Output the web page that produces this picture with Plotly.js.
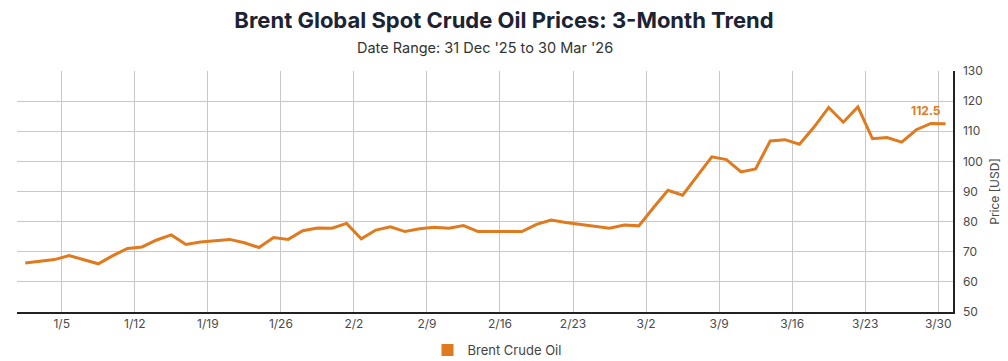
<!DOCTYPE html>
<html>
<head>
<meta charset="utf-8">
<script src="https://cdn.plot.ly/plotly-3.0.1.min.js"></script>
<style>
  html, body { margin: 0; padding: 0; background: #ffffff; }
  #chart { width: 1008px; height: 361px; }
</style>
</head>
<body>
<div id="chart"></div>
<script>
// Trading days (weekdays) 31 Dec 2025 – 30 Mar 2026
const dates = [
  '2025-12-31','2026-01-01','2026-01-02',
  '2026-01-05','2026-01-06','2026-01-07','2026-01-08','2026-01-09',
  '2026-01-12','2026-01-13','2026-01-14','2026-01-15','2026-01-16',
  '2026-01-19','2026-01-20','2026-01-21','2026-01-22','2026-01-23',
  '2026-01-26','2026-01-27','2026-01-28','2026-01-29','2026-01-30',
  '2026-02-02','2026-02-03','2026-02-04','2026-02-05','2026-02-06',
  '2026-02-09','2026-02-10','2026-02-11','2026-02-12','2026-02-13',
  '2026-02-16','2026-02-17','2026-02-18','2026-02-19','2026-02-20',
  '2026-02-23','2026-02-24','2026-02-25','2026-02-26','2026-02-27',
  '2026-03-02','2026-03-03','2026-03-04','2026-03-05','2026-03-06',
  '2026-03-09','2026-03-10','2026-03-11','2026-03-12','2026-03-13',
  '2026-03-16','2026-03-17','2026-03-18','2026-03-19','2026-03-20',
  '2026-03-23','2026-03-24','2026-03-25','2026-03-26','2026-03-27',
  '2026-03-30'
];

// Brent spot price, USD
const brentPrices = [
  66.3, 66.9, 67.4,
  68.7, 67.3, 66.0, 68.7, 71.1,
  71.6, 73.9, 75.6, 72.4, 73.2,
  73.7, 74.1, 73.0, 71.4, 74.7,
  74.1, 77.0, 77.9, 77.8, 79.4,
  74.3, 77.2, 78.3, 76.7, 77.6,
  78.1, 77.8, 78.7, 76.7, 76.7,
  76.7, 76.7, 79.1, 80.5, 79.7,
  79.0, 78.3, 77.8, 78.9, 78.6,
  84.6, 90.4, 88.8, 95.3, 101.5,
  100.6, 96.5, 97.5, 106.8, 107.2,
  105.7, 111.4, 117.9, 113.0, 118.1,
  107.5, 107.9, 106.4, 110.5, 112.6,
  112.5
];

// X-axis ticks (Mondays)
const tickDates = ['2026-01-05','2026-01-12','2026-01-19','2026-01-26','2026-02-02','2026-02-09',
  '2026-02-16','2026-02-23','2026-03-02','2026-03-09','2026-03-16','2026-03-23','2026-03-30'];
const tickLabels = ['1/5','1/12','1/19','1/26','2/2','2/9','2/16','2/23','3/2','3/9','3/16','3/23','3/30'];

const seriesName = 'Brent Crude Oil';
const titleText = 'Brent Global Spot Crude Oil Prices: 3-Month Trend';
const subtitleText = "Date Range: 31 Dec '25 to 30 Mar '26";

const ORANGE = '#E07A1F';
const GRID = '#c5c7cc';
const FONT = 'Inter, "Open Sans", "DejaVu Sans", sans-serif';

const lastIdx = brentPrices.length - 1;

const traces = [
  {
    type: 'scatter',
    mode: 'lines',
    x: dates,
    y: brentPrices,
    xperiod: 86400000,
    xperiodalignment: 'middle',
    line: { color: ORANGE, width: 3 },
    name: seriesName,
    showlegend: false,
    hoverinfo: 'x+y'
  },
  {
    // legend swatch only (square symbol)
    type: 'bar',
    x: [null],
    y: [null],
    name: seriesName,
    marker: { color: ORANGE },
    showlegend: true,
    hoverinfo: 'skip'
  }
];

const layout = {
  width: 1008,
  height: 361,
  margin: { l: 17, r: 55, t: 71, b: 49, autoexpand: false },
  paper_bgcolor: '#ffffff',
  plot_bgcolor: '#ffffff',
  font: { family: FONT, color: '#444444', size: 12 },
  title: {
    text: '<b>' + titleText + '</b>',
    font: { family: 'Inter, "Open Sans", sans-serif', size: 22, color: '#1c2333' },
    x: 0.5,
    xanchor: 'center',
    y: 1 - 20 / 361,
    yanchor: 'middle',
    yref: 'container'
  },
  xaxis: {
    type: 'date',
    range: ['2025-12-30 22:30', '2026-03-31 00:15'],
    rangebreaks: [{ bounds: ['sat', 'mon'] }],
    tickmode: 'array',
    tickvals: tickDates,
    ticktext: tickLabels,
    showgrid: true,
    gridcolor: GRID,
    gridwidth: 1,
    showline: true,
    linecolor: '#222222',
    linewidth: 2,
    ticks: '',
    tickfont: { size: 12, color: '#4a4a4a' },
    zeroline: false,
    automargin: false,
    fixedrange: true
  },
  yaxis: {
    side: 'right',
    range: [50, 130],
    dtick: 10,
    tick0: 50,
    showgrid: true,
    gridcolor: GRID,
    gridwidth: 1,
    showline: true,
    linecolor: '#222222',
    linewidth: 1.5,
    ticks: '',
    ticklabelstandoff: 6,
    tickfont: { size: 12, color: '#4a4a4a' },
    title: { text: 'Price [USD]', font: { size: 12, color: '#4a4a4a' }, standoff: 8 },
    zeroline: false,
    automargin: false,
    fixedrange: true
  },
  showlegend: true,
  legend: {
    orientation: 'h',
    x: 0.5 + 12 / 936,
    xanchor: 'center',
    y: -(350 - 312) / 241,
    yanchor: 'middle',
    font: { size: 13, color: '#444444' },
    bgcolor: 'rgba(0,0,0,0)'
  },
  annotations: [
    {
      xref: 'paper', yref: 'paper',
      x: 0.5, y: (312 - 48) / 241,
      xanchor: 'center', yanchor: 'middle',
      text: subtitleText,
      showarrow: false,
      font: { size: 14.5, color: '#333333' }
    },
    {
      xref: 'x', yref: 'y',
      x: dates[lastIdx],
      y: brentPrices[lastIdx],
      text: '<b>' + brentPrices[lastIdx].toFixed(1) + '</b>',
      showarrow: false,
      xanchor: 'right',
      yanchor: 'bottom',
      xshift: 5,
      yshift: 4,
      font: { size: 12, color: ORANGE }
    }
  ]
};

Plotly.newPlot('chart', traces, layout, { displayModeBar: false, staticPlot: true });
</script>
</body>
</html>
